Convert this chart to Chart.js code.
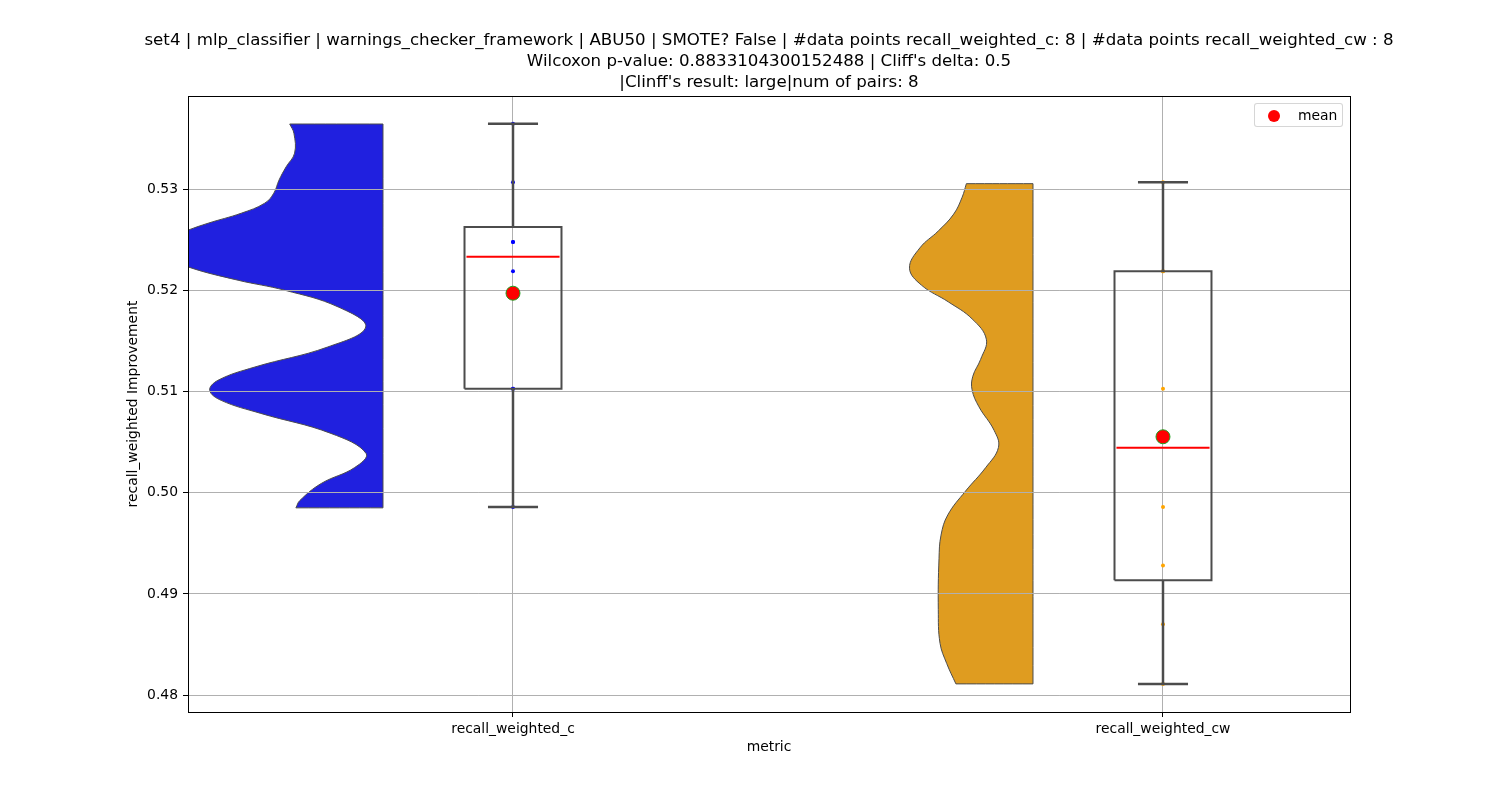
<!DOCTYPE html>
<html>
<head>
<meta charset="utf-8">
<script src="https://cdn.jsdelivr.net/npm/chart.js@4.4.1/dist/chart.umd.min.js"></script>
<style>
  html, body { margin: 0; padding: 0; background: #ffffff; }
  #wrap { position: relative; width: 1500px; height: 800px; overflow: hidden; }
  #chart { position: absolute; left: 0; top: 0; }
  #title {
    position: absolute; left: 0; width: 1538px; top: 29px;
    text-align: center; font-family: 'DejaVu Sans', sans-serif;
    font-size: 16.67px; line-height: 21px; color: #000; white-space: pre;
  }
  #legend {
    position: absolute; left: 1254px; top: 103px; width: 87px; height: 22px;
    border: 1px solid rgba(204,204,204,0.8); border-radius: 3px;
    background: rgba(255,255,255,0.8);
    font-family: 'DejaVu Sans', sans-serif; font-size: 13.9px; color: #000;
  }
  #legend .mk { position: absolute; left: 13px; top: 6px; width: 12px; height: 12px; border-radius: 50%; background: #ff0000; }
  #legend .tx { position: absolute; left: 43px; top: 2px; line-height: 18px; }
</style>
</head>
<body>
<div id="wrap">
  <canvas id="chart" width="1500" height="800"></canvas>
  <div id="title">set4 | mlp_classifier | warnings_checker_framework | ABU50 | SMOTE? False | #data points recall_weighted_c: 8 | #data points recall_weighted_cw : 8
Wilcoxon p-value: 0.8833104300152488 | Cliff's delta: 0.5
|Clinff's result: large|num of pairs: 8</div>
  <div id="legend"><span class="mk"></span><span class="tx">mean</span></div>
</div>
<script>
// ---------------- data ----------------
const categories = ['recall_weighted_c', 'recall_weighted_cw'];
const valuesC  = [0.5365, 0.5307, 0.5248, 0.5248, 0.5219, 0.5103, 0.5103, 0.4986];
const valuesCW = [0.5307, 0.5219, 0.5219, 0.5103, 0.4986, 0.4928, 0.4870, 0.4811];
const yTicks = [0.48, 0.49, 0.50, 0.51, 0.52, 0.53];

// violin outlines: level and extent to the left of the flat edge (category units)
const violinCLevels = [0.53647, 0.53554, 0.53359, 0.53224, 0.53092, 0.52963, 0.52864, 0.52765, 0.52666, 0.52597,
  0.52419, 0.52234, 0.52102, 0.52003, 0.51838, 0.51640, 0.51442, 0.51244, 0.51112, 0.51013, 0.50914, 0.50785,
  0.50587, 0.50389, 0.50250, 0.50092, 0.49923, 0.49851];
const violinCWidths = [0.1435, 0.137, 0.136, 0.149, 0.160, 0.168, 0.182, 0.218, 0.269, 0.300,
  0.370, 0.300, 0.223, 0.151, 0.069, 0.0266, 0.085, 0.197, 0.254, 0.2666, 0.249, 0.188,
  0.080, 0.026, 0.0435, 0.095, 0.128, 0.134];
const violinCWLevels = [0.53057, 0.52923, 0.52756, 0.52589, 0.52422, 0.52221, 0.52054, 0.51887, 0.51720, 0.51519,
  0.51319, 0.51152, 0.51018, 0.50851, 0.50617, 0.50450, 0.50249, 0.50015, 0.49781, 0.49581, 0.49347, 0.48846,
  0.48511, 0.48311, 0.48110];
const violinCWWidths = [0.1025, 0.109, 0.122, 0.1457, 0.174, 0.190, 0.1717, 0.130, 0.0937, 0.0718,
  0.0806, 0.0926, 0.0937, 0.0832, 0.0598, 0.0531, 0.0728, 0.104, 0.1311, 0.1415, 0.1446, 0.1457,
  0.143, 0.1327, 0.1186];

// ---------------- layout / style constants ----------------
const VIOLIN_EDGE = -0.2;   // flat edge offset from category
const BOX_HALF = 0.0746;
const CAP_HALF = 0.0385;
const BOX_COLOR = '#4c4c4c';
const violinColors = ['#2020df', '#df9c20'];
const stripColors = ['#0000ff', '#ffa500'];

// ---------------- helpers ----------------
function quantile(arr, q) {
  const s = [...arr].sort((a, b) => a - b);
  const pos = (s.length - 1) * q;
  const lo = Math.floor(pos), hi = Math.ceil(pos);
  return s[lo] + (s[hi] - s[lo]) * (pos - lo);
}
function stats(arr) {
  const q1 = quantile(arr, 0.25), q3 = quantile(arr, 0.75), med = quantile(arr, 0.5);
  const iqr = q3 - q1;
  const inLo = arr.filter(v => v >= q1 - 1.5 * iqr), inHi = arr.filter(v => v <= q3 + 1.5 * iqr);
  return { q1, q3, med, wlo: Math.min(...inLo), whi: Math.max(...inHi),
           mean: arr.reduce((a, b) => a + b, 0) / arr.length };
}
function violinPoints(ci, levels, widths) {
  const edge = ci + VIOLIN_EDGE;
  const top = levels[0], bot = levels[levels.length - 1];
  const pts = [{x: edge, y: top}, {x: edge, y: top}];
  levels.forEach((lv, i) => {
    const p = {x: edge - widths[i], y: lv};
    pts.push(p);
    if (i === 0 || i === levels.length - 1) pts.push({x: p.x, y: p.y});
  });
  pts.push({x: edge, y: bot}, {x: edge, y: bot}, {x: edge, y: top}, {x: edge, y: top});
  return pts;
}
function lineDs(points, color, width, order) {
  return { type: 'line', data: points, borderColor: color, borderWidth: width, backgroundColor: color,
           fill: false, tension: 0, pointRadius: 0, pointHoverRadius: 0, order: order, borderCapStyle: 'butt' };
}

const series = [valuesC, valuesCW];
const violins = [[violinCLevels, violinCWidths], [violinCWLevels, violinCWWidths]];
const datasets = [];

series.forEach((vals, ci) => {
  const st = stats(vals);
  // violin
  datasets.push({
    label: 'violin_' + ci, type: 'line', data: violinPoints(ci, violins[ci][0], violins[ci][1]),
    borderColor: BOX_COLOR, borderWidth: 1, backgroundColor: violinColors[ci],
    fill: 'shape', tension: 0.4, pointRadius: 0, pointHoverRadius: 0, order: 20 - ci
  });
  // strip points
  datasets.push({
    label: 'strip_' + ci, type: 'scatter', data: vals.map(v => ({x: ci, y: v})),
    backgroundColor: stripColors[ci], borderWidth: 0, pointRadius: 2, order: 10
  });
  // box
  datasets.push(lineDs([{x: ci - BOX_HALF, y: st.q1}, {x: ci + BOX_HALF, y: st.q1}, {x: ci + BOX_HALF, y: st.q3},
                        {x: ci - BOX_HALF, y: st.q3}, {x: ci - BOX_HALF, y: st.q1}], BOX_COLOR, 2, 5));
  datasets.push(lineDs([{x: ci, y: st.wlo}, {x: ci, y: st.q1}], BOX_COLOR, 2.5, 5));
  datasets.push(lineDs([{x: ci, y: st.q3}, {x: ci, y: st.whi}], BOX_COLOR, 2.5, 5));
  datasets.push(lineDs([{x: ci - CAP_HALF, y: st.wlo}, {x: ci + CAP_HALF, y: st.wlo}], BOX_COLOR, 2.5, 5));
  datasets.push(lineDs([{x: ci - CAP_HALF, y: st.whi}, {x: ci + CAP_HALF, y: st.whi}], BOX_COLOR, 2.5, 5));
  // median
  datasets.push(lineDs([{x: ci - BOX_HALF + 0.003, y: st.med}, {x: ci + BOX_HALF - 0.003, y: st.med}], '#ff0000', 2, 4));
  // mean
  datasets.push({
    label: 'mean', type: 'scatter', data: [{x: ci, y: st.mean}],
    backgroundColor: '#ff0000', borderColor: '#22a022', borderWidth: 1, pointRadius: 7, order: 1
  });
});

// redraw the grid over the violins (matplotlib draws grid above the violin patches)
const gridOverViolins = {
  id: 'gridOverViolins',
  afterDatasetDraw(chart, args) {
    const ds = chart.data.datasets[args.index];
    if (ds.label === 'violin_1') {
      chart.ctx.save();
      chart.scales.x.drawGrid(chart.chartArea);
      chart.scales.y.drawGrid(chart.chartArea);
      chart.ctx.restore();
    }
  }
};
const frame = {
  id: 'frame',
  afterDraw(chart) {
    const {left, right, top, bottom} = chart.chartArea;
    const c = chart.ctx;
    c.save();
    c.strokeStyle = '#000'; c.lineWidth = 1;
    const l = Math.round(left) + 0.5, t = Math.round(top) + 0.5;
    const r = Math.round(right) + 0.5, b = Math.round(bottom) + 0.5;
    c.strokeRect(l, t, r - l, b - t);
    c.restore();
  }
};

Chart.defaults.font.family = "'DejaVu Sans', sans-serif";
Chart.defaults.font.size = 13.9;
Chart.defaults.color = '#000';

new Chart(document.getElementById('chart'), {
  type: 'scatter',
  data: { datasets },
  options: {
    responsive: false, animation: false, devicePixelRatio: 1,
    layout: { padding: { top: 96, right: 150, left: 0, bottom: 0 } },
    plugins: { legend: { display: false }, tooltip: { enabled: false }, title: { display: false } },
    scales: {
      x: {
        type: 'linear', min: -0.5, max: 1.2877,
        afterBuildTicks: s => { s.ticks = categories.map((c, i) => ({ value: i })); },
        afterFit: s => { s.height = 88; },
        ticks: { callback: (v, i) => categories[i], padding: 4, autoSkip: false, maxRotation: 0, color: '#000' },
        grid: { color: '#b0b0b0', lineWidth: 1, tickLength: 5, tickColor: '#000', drawTicks: true },
        border: { display: false },
        title: { display: true, text: 'metric', padding: { top: 0, bottom: 44.7 }, color: '#000' }
      },
      y: {
        type: 'linear', min: 0.47832, max: 0.53924,
        afterBuildTicks: s => { s.ticks = yTicks.map(v => ({ value: v })); },
        afterFit: s => { s.width = 188; },
        ticks: { callback: v => Number(v).toFixed(2), padding: 5, color: '#000' },
        grid: { color: '#b0b0b0', lineWidth: 1, tickLength: 5, tickColor: '#000', drawTicks: true },
        border: { display: false },
        title: { display: true, text: 'recall_weighted Improvement', padding: { top: 124.7, bottom: 0 }, color: '#000' }
      }
    }
  },
  plugins: [gridOverViolins, frame]
});
</script>
</body>
</html>
